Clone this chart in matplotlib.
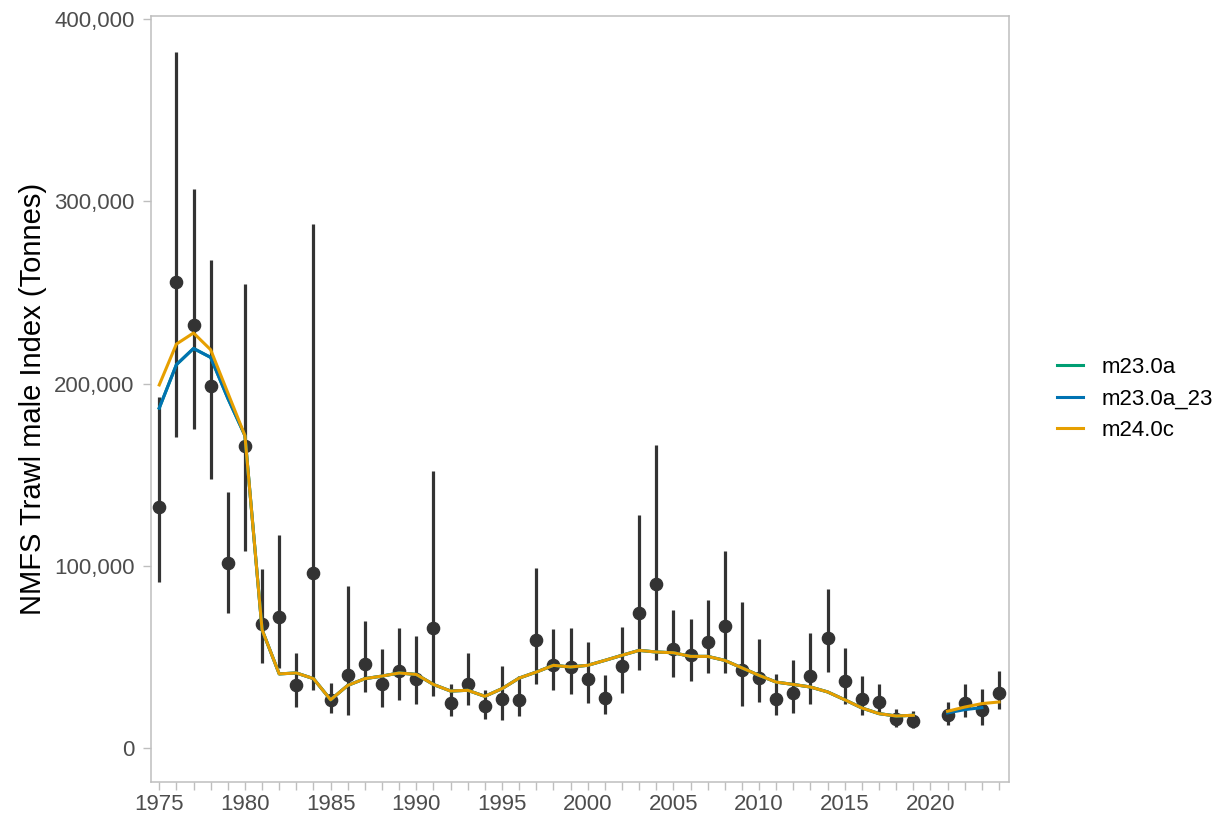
import numpy as np
import matplotlib
matplotlib.use('Agg')
import matplotlib.pyplot as plt
from matplotlib.ticker import FuncFormatter, MultipleLocator

nan = np.nan

years = list(range(1975, 2025))

# observed survey index (tonnes) with interval ends
obs = [132600, 255500, 232000, 198900, 101900, 166000, 68000, 72000, 34500, 96100,
       26600, 40400, 46400, 35300, 42400, 38200, 66100, 24800, 35400, 23000,
       27200, 26700, 59500, 45800, 44400, 38200, 27800, 44900, 74300, 90200,
       54600, 51000, 58100, 66800, 43100, 38500, 27200, 30500, 39500, 60400,
       36700, 26800, 25200, 15900, 14800, nan, 18100, 24800, 20800, 30300]
obs_lo = [91100, 171000, 175000, 147800, 74300, 108000, 47000, 44000, 22600, 31800,
          19400, 18300, 30700, 22600, 26700, 24100, 28800, 17500, 23900, 16100,
          15700, 17900, 35400, 32100, 29600, 24800, 19000, 30300, 43100, 48600,
          39100, 36700, 41300, 41300, 23000, 25200, 18100, 19400, 24500, 41600,
          24500, 18400, 19000, 11700, 11300, nan, 12600, 17200, 12600, 21700]
obs_hi = [192900, 382000, 307000, 267600, 140300, 254800, 98300, 116900, 52200, 287700,
          36000, 88900, 69800, 54600, 65800, 61400, 151900, 35000, 52200, 32100,
          45300, 39500, 98800, 65600, 65900, 58300, 40000, 66500, 128200, 166600,
          76000, 70700, 81100, 108100, 80200, 59700, 40900, 48200, 63200, 87500,
          55200, 39500, 35000, 21700, 20300, nan, 25400, 35400, 32700, 42200]

# model fits
m23_0a = [186600, 210400, 219300, 214400, 192000, 171500, 65000, 40800, 41300, 38200,
          26600, 34500, 38200, 39600, 41300, 40500, 35000, 31400, 31800, 28500,
          32700, 38500, 41800, 45500, 44600, 45500, 48200, 51000, 53700, 52800,
          52400, 50400, 50400, 48200, 44100, 40000, 36300, 35000, 33600, 30900,
          26600, 22100, 19000, 17700, 18100, nan, nan, nan, nan, nan]
m23_0a_23 = [186600, 210400, 219300, 214400, 192000, 171500, 65000, 40800, 41300, 38200,
             26600, 34500, 38200, 39600, 41300, 40500, 35000, 31400, 31800, 28500,
             32700, 38500, 41800, 45500, 44600, 45500, 48200, 51000, 53700, 52800,
             52400, 50400, 50400, 48200, 44100, 40000, 36300, 35000, 33600, 30900,
             26600, 22100, 19000, 17700, 18100, nan, 19400, 21200, 22300, nan]
m24_0c = [199300, 221700, 227800, 218600, 195000, 171500, 65000, 40800, 41300, 38200,
          26600, 34500, 38200, 39600, 41300, 40500, 35000, 31400, 31800, 28500,
          32700, 38500, 41800, 45500, 44600, 45500, 48200, 51000, 53700, 52800,
          52400, 50400, 50400, 48200, 44100, 40000, 36300, 35000, 33600, 30900,
          26600, 22100, 19000, 17700, 18100, nan, 20300, 22600, 24500, 25400]

models = [('m23.0a', m23_0a, '#009E73'),
          ('m23.0a_23', m23_0a_23, '#0072B2'),
          ('m24.0c', m24_0c, '#E69F00')]

plt.rcParams['font.family'] = ['Liberation Sans', 'DejaVu Sans']

fig = plt.figure(figsize=(12.28, 8.17), dpi=100)
ax = fig.add_axes([0.1227, 0.0425, 0.6992, 0.9380])

yrs = np.array(years)
o = np.array(obs)
lo = np.array(obs_lo)
hi = np.array(obs_hi)
ax.vlines(yrs, lo, hi, color='#333333', linewidth=2.3, zorder=2)
ax.plot(yrs, o, 'o', color='#333333', markersize=8.8, zorder=3)

for name, vals, col in models:
    ax.plot(yrs, vals, color=col, linewidth=2.2, label=name, zorder=4)

ax.set_xlim(1974.5, 2024.6)
ax.set_ylim(-18650, 401700)

ax.xaxis.set_major_locator(MultipleLocator(5))
ax.xaxis.set_minor_locator(MultipleLocator(1))
ax.yaxis.set_major_locator(MultipleLocator(100000))
ax.yaxis.set_major_formatter(FuncFormatter(lambda v, p: '{:,.0f}'.format(v)))

for s in ax.spines.values():
    s.set_color('#BEBEBE')
    s.set_linewidth(1.1)
ax.tick_params(which='both', direction='out', length=5.5, width=1.0, color='#BEBEBE',
               labelsize=16, labelcolor='#4D4D4D')
ax.tick_params(axis='y', pad=6)
ax.tick_params(axis='x', pad=3)

ax.set_ylabel('NMFS Trawl male Index (Tonnes)', fontsize=21, color='black')
ax.yaxis.set_label_coords(-0.121, 0.5)

fig.legend(loc='center left', bbox_to_anchor=(1057 / 1228, 1 - 399 / 817),
           frameon=False, fontsize=16, handlelength=1.15, handletextpad=0.85,
           labelspacing=0.47, borderpad=0, borderaxespad=0)

fig.savefig('out.png', dpi=100)
